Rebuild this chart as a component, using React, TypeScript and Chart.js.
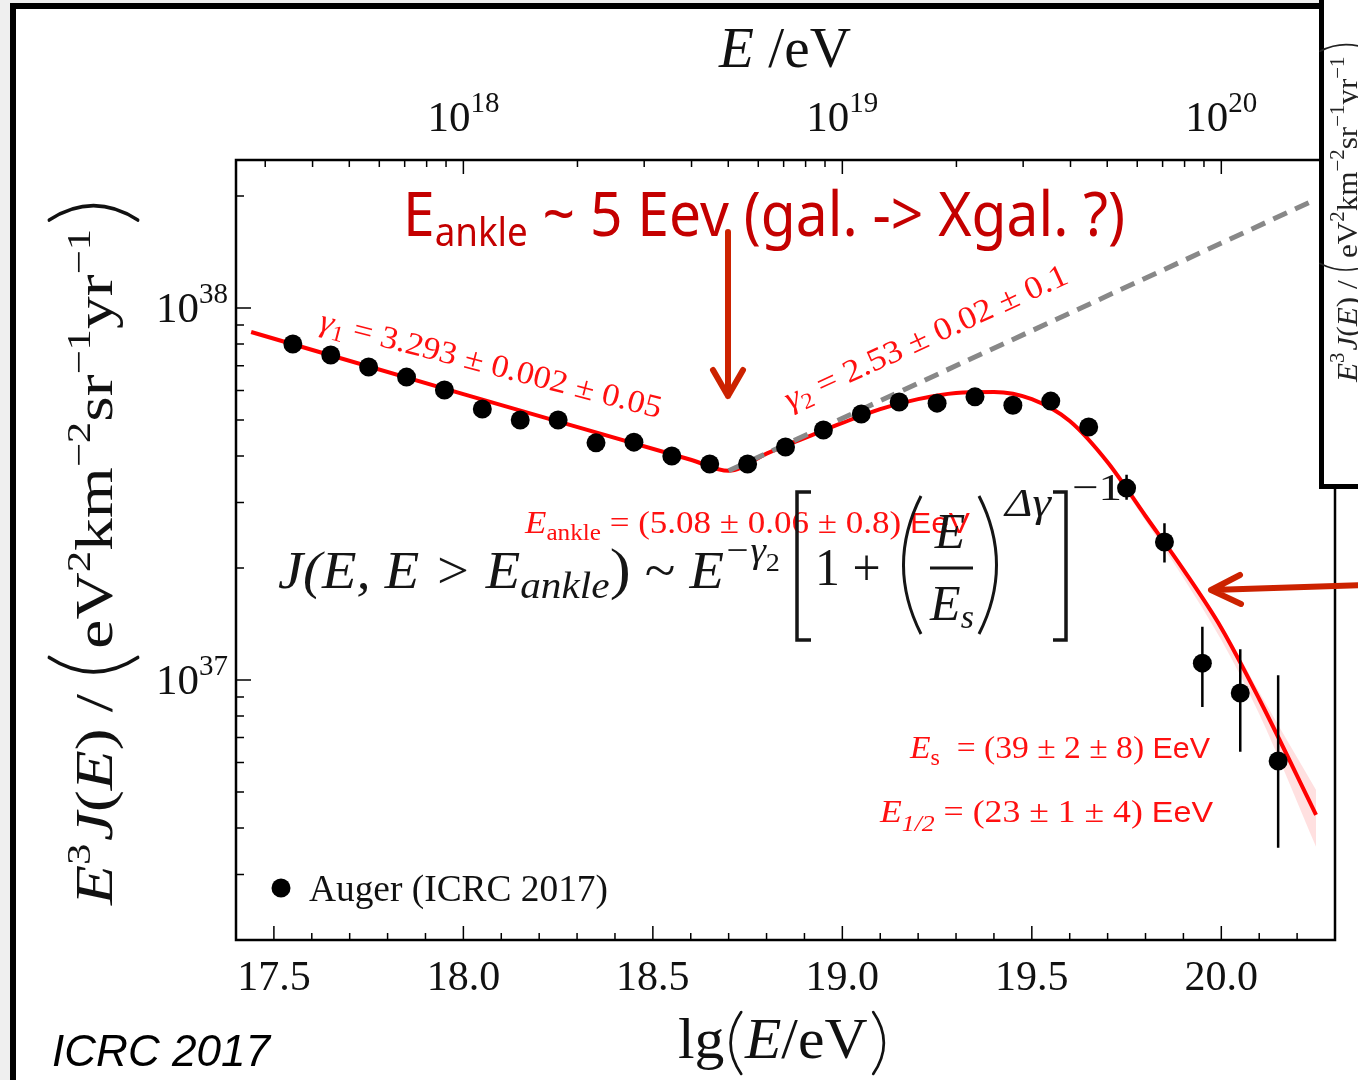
import React, { useEffect, useRef } from "react";
import { Chart, registerables } from "chart.js";
Chart.register(...registerables);

// ---------- data ----------
const energyLg = [17.55, 17.65, 17.75, 17.85, 17.95, 18.05, 18.15, 18.25, 18.35, 18.45, 18.55, 18.65, 18.75, 18.85, 18.95, 19.05, 19.15, 19.25, 19.35, 19.45, 19.55, 19.65, 19.75, 19.85, 19.95, 20.05, 20.15];
const fluxE3J = [8.0e37, 7.48e37, 6.94e37, 6.52e37, 6.02e37, 5.35e37, 5.0e37, 5.0e37, 4.34e37, 4.36e37, 4.0e37, 3.81e37, 3.81e37, 4.23e37, 4.7e37, 5.19e37, 5.59e37, 5.55e37, 5.77e37, 5.48e37, 5.62e37, 4.79e37, 3.28e37, 2.35e37, 1.11e37, 9.23e36, 6.06e36];
const errHigh = [null, null, null, null, null, null, null, null, null, null, null, null, null, null, null, null, null, null, null, null, null, null, 3.56e37, 2.64e37, 1.39e37, 1.21e37, 1.03e37];
const errLow = [null, null, null, null, null, null, null, null, null, null, null, null, null, null, null, null, null, null, null, null, null, null, 3.05e37, 2.07e37, 8.46e36, 6.41e36, 3.54e36];

const fitLg = [17.44, 18.0, 18.6, 18.7, 18.8, 18.9, 19.0, 19.1, 19.2, 19.3, 19.4, 19.5, 19.6, 19.7, 19.8, 19.9, 20.0, 20.1, 20.25];
const fitE3J = [8.62e37, 5.87e37, 3.91e37, 3.65e37, 4.06e37, 4.47e37, 4.91e37, 5.35e37, 5.69e37, 5.91e37, 5.95e37, 5.69e37, 4.97e37, 3.85e37, 2.76e37, 1.98e37, 1.38e37, 8.89e36, 4.34e36];

const bandLg = [19.7, 19.8, 19.9, 20.0, 20.1, 20.25];
const bandUpper = [3.9e37, 2.81e37, 2.01e37, 1.41e37, 9.28e36, 5.06e36];
const bandLower = [3.81e37, 2.68e37, 1.88e37, 1.28e37, 8.1e36, 3.56e36];

const extrapLg = [18.7, 20.25];
const extrapE3J = [3.65e37, 1.96e38];

const xTickValues = [17.5, 18.0, 18.5, 19.0, 19.5, 20.0];
const xTickLabels = ["17.5", "18.0", "18.5", "19.0", "19.5", "20.0"];
const topTickExponents = [18, 19, 20];
const yTickExponents = [37, 38];
const xRange = [17.4, 20.3];
const yRange = [2e36, 2.5e38];

// ---------- helpers ----------
const SERIF = '"Liberation Serif", "DejaVu Serif", serif';
const SANS = '"Liberation Sans", Arial, sans-serif';
const COMIC = '"Comic Sans MS", "Noto Sans", sans-serif';
const sf = (size: number, style = "") => `${style} ${size}px ${SERIF}`.trim();
const ss = (size: number, style = "") => `${style} ${size}px ${SANS}`.trim();

type Piece = {
  t: string;
  font?: string;
  dy?: number;
  dx?: number;
  paren?: "(" | ")";
  w?: number;
  asc?: number;
  desc?: number;
  lw?: number;
};

function pieceWidth(ctx: CanvasRenderingContext2D, p: Piece) {
  if (p.paren) return (p.w || 16) + (p.dx || 0);
  ctx.font = p.font || sf(20);
  return ctx.measureText(p.t).width + (p.dx || 0);
}

function measure(ctx: CanvasRenderingContext2D, ps: Piece[]) {
  let w = 0;
  for (const p of ps) w += pieceWidth(ctx, p);
  return w;
}

function drawRich(
  ctx: CanvasRenderingContext2D,
  ps: Piece[],
  x: number,
  y: number,
  o: { align?: "left" | "center" | "right"; width?: number; angle?: number; color?: string } = {}
) {
  const w = measure(ctx, ps);
  const s = o.width ? o.width / w : 1;
  const W = w * s;
  ctx.save();
  ctx.translate(x, y);
  if (o.angle) ctx.rotate(o.angle);
  const off = o.align === "center" ? -W / 2 : o.align === "right" ? -W : 0;
  ctx.translate(off, 0);
  ctx.scale(s, 1);
  if (o.color) ctx.fillStyle = o.color;
  ctx.strokeStyle = ctx.fillStyle;
  ctx.textBaseline = "alphabetic";
  ctx.textAlign = "left";
  let cx = 0;
  for (const p of ps) {
    cx += p.dx || 0;
    if (p.paren) {
      const pw = p.w || 16;
      const top = -(p.asc || 40);
      const bot = p.desc || 12;
      const mid = (top + bot) / 2;
      ctx.lineWidth = p.lw || 2.5;
      ctx.lineCap = "round";
      ctx.beginPath();
      if (p.paren === "(") {
        ctx.moveTo(cx + pw * 0.8, top);
        ctx.quadraticCurveTo(cx - pw * 0.35, mid, cx + pw * 0.8, bot);
      } else {
        ctx.moveTo(cx + pw * 0.2, top);
        ctx.quadraticCurveTo(cx + pw * 1.35, mid, cx + pw * 0.2, bot);
      }
      ctx.stroke();
      cx += pw;
    } else {
      ctx.font = p.font || sf(20);
      ctx.fillText(p.t, cx, p.dy || 0);
      cx += ctx.measureText(p.t).width;
    }
  }
  ctx.restore();
}

function unitsPieces(F: number): Piece[] {
  const sup = Math.round(F * 0.65);
  const up = -Math.round(F * 0.42);
  const pw = Math.round(F * 0.38);
  const asc = Math.round(F * 1.22);
  const desc = Math.round(F * 0.5);
  const lw = Math.max(1.6, F * 0.055);
  return [
    { t: "E", font: sf(F, "italic") },
    { t: "3", font: sf(sup), dy: up },
    { t: "J", font: sf(F, "italic"), dx: 2 },
    { t: "(", font: sf(F) },
    { t: "E", font: sf(F, "italic") },
    { t: ")", font: sf(F) },
    { t: " / ", font: sf(F) },
    { t: "", paren: "(", w: pw, asc, desc, lw },
    { t: "eV", font: sf(F), dx: 3 },
    { t: "2", font: sf(sup), dy: up },
    { t: "km", font: sf(F) },
    { t: "\u22122", font: sf(sup), dy: up },
    { t: "sr", font: sf(F) },
    { t: "\u22121", font: sf(sup), dy: up },
    { t: "yr", font: sf(F) },
    { t: "\u22121", font: sf(sup), dy: up },
    { t: "", paren: ")", w: pw, asc, desc, lw, dx: 3 },
  ];
}

const decor = {
  id: "decor",
  beforeDraw(chart: any) {
    const ctx: CanvasRenderingContext2D = chart.ctx;
    ctx.save();
    ctx.fillStyle = "#ffffff";
    ctx.fillRect(0, 0, chart.width, chart.height);
    ctx.fillStyle = "#efefef";
    ctx.fillRect(0, 0, 10, chart.height);
    ctx.fillRect(0, 0, chart.width, 3);
    ctx.restore();
  },
  afterDatasetsDraw(chart: any) {
    const ctx: CanvasRenderingContext2D = chart.ctx;
    const xs = chart.scales.x;
    const ys = chart.scales.y;
    ctx.save();
    ctx.strokeStyle = "#000";
    ctx.lineWidth = 2.5;
    ctx.beginPath();
    for (let i = 0; i < energyLg.length; i++) {
      const hi = errHigh[i];
      const lo = errLow[i];
      if (hi == null || lo == null) continue;
      const x = xs.getPixelForValue(energyLg[i]);
      ctx.moveTo(x, ys.getPixelForValue(hi));
      ctx.lineTo(x, ys.getPixelForValue(lo));
    }
    ctx.stroke();
    ctx.restore();
  },
  afterDraw(chart: any) {
    const ctx: CanvasRenderingContext2D = chart.ctx;
    const a = chart.chartArea;
    const xs = chart.scales.x;
    const ys = chart.scales.y;
    ctx.save();

    // slide frame
    ctx.fillStyle = "#000";
    ctx.fillRect(10, 3, 6, chart.height - 3);
    ctx.fillRect(10, 3, 1312, 6);

    // plot frame
    ctx.strokeStyle = "#000";
    ctx.lineWidth = 2.5;
    ctx.strokeRect(a.left, a.top, a.right - a.left, a.bottom - a.top);

    // ticks (inward)
    ctx.lineWidth = 1.5;
    ctx.beginPath();
    for (let k = 174; k <= 203; k++) {
      const v = k / 10;
      if (v <= xRange[0] + 0.001 || v >= xRange[1] - 0.001) continue;
      const x = xs.getPixelForValue(v);
      const len = k % 5 === 0 ? 14 : 7;
      ctx.moveTo(x, a.bottom);
      ctx.lineTo(x, a.bottom - len);
    }
    for (let n = 17; n <= 20; n++) {
      for (let m = 1; m <= 9; m++) {
        const v = n + Math.log10(m);
        if (v <= xRange[0] || v >= xRange[1]) continue;
        const x = xs.getPixelForValue(v);
        const len = m === 1 ? 14 : 7;
        ctx.moveTo(x, a.top);
        ctx.lineTo(x, a.top + len);
      }
    }
    for (let n = 36; n <= 38; n++) {
      for (let m = 1; m <= 9; m++) {
        const v = m * Math.pow(10, n);
        if (v <= yRange[0] * 1.001 || v >= yRange[1]) continue;
        const y = ys.getPixelForValue(v);
        const len = m === 1 ? 15 : 8;
        ctx.moveTo(a.left, y);
        ctx.lineTo(a.left + len, y);
      }
    }
    ctx.stroke();

    // tick labels
    ctx.fillStyle = "#111";
    xTickValues.forEach((v, i) => {
      drawRich(ctx, [{ t: xTickLabels[i], font: sf(42) }], xs.getPixelForValue(v), a.bottom + 50, { align: "center" });
    });
    topTickExponents.forEach((e) => {
      drawRich(
        ctx,
        [
          { t: "10", font: sf(43) },
          { t: String(e), font: sf(29), dy: -19 },
        ],
        xs.getPixelForValue(e),
        a.top - 29,
        { align: "center" }
      );
    });
    yTickExponents.forEach((e) => {
      drawRich(
        ctx,
        [
          { t: "10", font: sf(43) },
          { t: String(e), font: sf(29), dy: -19 },
        ],
        a.left - 8,
        ys.getPixelForValue(Math.pow(10, e)) + 14,
        { align: "right" }
      );
    });

    // axis titles
    drawRich(
      ctx,
      [
        { t: "E", font: sf(56, "italic") },
        { t: " /eV", font: sf(56) },
      ],
      785,
      67,
      { align: "center", width: 132 }
    );
    drawRich(
      ctx,
      [
        { t: "lg", font: sf(58) },
        { t: "", paren: "(", w: 18, asc: 46, desc: 16, lw: 2.6, dx: 2 },
        { t: "E", font: sf(58, "italic") },
        { t: "/", font: sf(58) },
        { t: "eV", font: sf(58) },
        { t: "", paren: ")", w: 18, asc: 46, desc: 16, lw: 2.6, dx: 2 },
      ],
      783,
      1058,
      { align: "center", width: 210 }
    );
    drawRich(ctx, unitsPieces(52), 112, 905, { angle: -Math.PI / 2, width: 705 });

    // legend
    ctx.fillStyle = "#000";
    ctx.beginPath();
    ctx.arc(281, 888, 9.5, 0, Math.PI * 2);
    ctx.fill();
    ctx.fillStyle = "#111";
    drawRich(ctx, [{ t: "Auger (ICRC 2017)", font: sf(37) }], 309, 901, { width: 299 });

    // red fit annotations
    const RED = "#ff1010";
    const F = 32;
    drawRich(
      ctx,
      [
        { t: "\u03b3", font: sf(F, "italic") },
        { t: "1", font: sf(Math.round(F * 0.7)), dy: 6 },
        { t: " = 3.293 \u00b1 0.002 \u00b1 0.05", font: sf(F) },
      ],
      318,
      330,
      { angle: (14.5 * Math.PI) / 180, width: 352, color: RED }
    );
    drawRich(
      ctx,
      [
        { t: "\u03b3", font: sf(F, "italic") },
        { t: "2", font: sf(Math.round(F * 0.7)), dy: 6 },
        { t: " = 2.53 \u00b1 0.02 \u00b1 0.1", font: sf(F) },
      ],
      790,
      410,
      { angle: (-24.5 * Math.PI) / 180, width: 308, color: RED }
    );
    drawRich(
      ctx,
      [
        { t: "E", font: sf(F, "italic") },
        { t: "ankle", font: sf(Math.round(F * 0.72)), dy: 7 },
        { t: " = (5.08 \u00b1 0.06 \u00b1 0.8) ", font: sf(F) },
        { t: "EeV", font: ss(F - 3) },
      ],
      525,
      533,
      { width: 445, color: RED }
    );
    drawRich(
      ctx,
      [
        { t: "E", font: sf(F, "italic") },
        { t: "s", font: sf(Math.round(F * 0.72)), dy: 7 },
        { t: "  = (39 \u00b1 2 \u00b1 8) ", font: sf(F) },
        { t: "EeV", font: ss(F - 3) },
      ],
      910,
      758,
      { width: 300, color: RED }
    );
    drawRich(
      ctx,
      [
        { t: "E", font: sf(F, "italic") },
        { t: "1/2", font: sf(Math.round(F * 0.72), "italic"), dy: 9 },
        { t: " = (23 \u00b1 1 \u00b1 4) ", font: sf(F) },
        { t: "EeV", font: ss(F - 3) },
      ],
      880,
      822,
      { width: 333, color: RED }
    );

    // black formula
    ctx.fillStyle = "#151515";
    drawRich(
      ctx,
      [
        { t: "J(E, E > E", font: sf(52, "italic") },
        { t: "ankle", font: sf(38, "italic"), dy: 10 },
        { t: ")", font: sf(58) },
        { t: " ~ ", font: sf(52) },
        { t: "E", font: sf(52, "italic") },
        { t: "\u2212\u03b3", font: sf(36, "italic"), dy: -26 },
        { t: "2", font: sf(26), dy: -17 },
      ],
      278,
      588,
      { width: 502 }
    );
    drawRich(ctx, [{ t: "1 + ", font: sf(52) }], 815, 585, { width: 78 });
    drawRich(ctx, [{ t: "E", font: sf(50, "italic") }], 950, 548, { align: "center" });
    drawRich(
      ctx,
      [
        { t: "E", font: sf(50, "italic") },
        { t: "s", font: sf(34, "italic"), dy: 8 },
      ],
      952,
      620,
      { align: "center" }
    );
    drawRich(ctx, [{ t: "\u0394\u03b3", font: sf(40, "italic") }], 1005, 516, { width: 46 });
    drawRich(ctx, [{ t: "\u22121", font: sf(38) }], 1072, 500, { width: 50 });
    ctx.strokeStyle = "#151515";
    ctx.lineWidth = 3.5;
    ctx.beginPath();
    ctx.moveTo(811, 492);
    ctx.lineTo(797, 492);
    ctx.lineTo(797, 640);
    ctx.lineTo(811, 640);
    ctx.moveTo(1053, 492);
    ctx.lineTo(1066, 492);
    ctx.lineTo(1066, 640);
    ctx.lineTo(1053, 640);
    ctx.stroke();
    ctx.lineWidth = 3;
    ctx.beginPath();
    ctx.moveTo(921, 496);
    ctx.quadraticCurveTo(886, 565, 921, 634);
    ctx.moveTo(979, 496);
    ctx.quadraticCurveTo(1014, 565, 979, 634);
    ctx.moveTo(930, 568);
    ctx.lineTo(973, 568);
    ctx.stroke();

    // headline annotation
    drawRich(
      ctx,
      [
        { t: "E", font: `62px ${COMIC}` },
        { t: "ankle", font: `40px ${COMIC}`, dy: 10 },
        { t: " ~ 5 Eev (gal. -> Xgal. ?)", font: `62px ${COMIC}` },
      ],
      403,
      236,
      { width: 722, color: "#c40000" }
    );

    // arrows
    ctx.strokeStyle = "#cc2200";
    ctx.lineWidth = 6;
    ctx.lineCap = "round";
    ctx.lineJoin = "round";
    ctx.beginPath();
    ctx.moveTo(728, 232);
    ctx.lineTo(728, 396);
    ctx.moveTo(713, 370);
    ctx.lineTo(728, 396);
    ctx.lineTo(743, 370);
    ctx.moveTo(1362, 585);
    ctx.lineTo(1212, 590);
    ctx.moveTo(1240, 575);
    ctx.lineTo(1211, 590);
    ctx.lineTo(1241, 604);
    ctx.stroke();

    // ICRC 2017 footer
    ctx.fillStyle = "#000";
    drawRich(ctx, [{ t: "ICRC 2017", font: ss(44, "italic") }], 52, 1066, { width: 218 });

    // overlapping panel at the top right
    ctx.fillStyle = "#ffffff";
    ctx.fillRect(1321, 0, chart.width - 1321, 487);
    ctx.fillStyle = "#000";
    ctx.fillRect(1319, 0, 5, 489);
    ctx.fillRect(1319, 484, chart.width - 1319, 5);
    ctx.fillStyle = "#222";
    drawRich(ctx, unitsPieces(30), 1357, 382, { angle: -Math.PI / 2, width: 340 });

    ctx.restore();
  },
};

export default function App() {
  const ref = useRef<HTMLCanvasElement>(null);
  useEffect(() => {
    document.body.style.margin = "0";
    const canvas = ref.current;
    if (!canvas) return;
    const pts = energyLg.map((x, i) => ({ x, y: fluxE3J[i] }));
    const fit = fitLg.map((x, i) => ({ x, y: fitE3J[i] }));
    const up = bandLg.map((x, i) => ({ x, y: bandUpper[i] }));
    const lo = bandLg.map((x, i) => ({ x, y: bandLower[i] }));
    const ext = extrapLg.map((x, i) => ({ x, y: extrapE3J[i] }));
    const chart = new Chart(canvas, {
      type: "line",
      data: {
        datasets: [
          {
            label: "Auger (ICRC 2017)",
            data: pts,
            showLine: false,
            pointRadius: 9.5,
            pointBackgroundColor: "#000",
            pointBorderColor: "#000",
            pointBorderWidth: 0,
            order: 0,
          },
          {
            label: "extrapolation",
            data: ext,
            borderColor: "#888888",
            borderWidth: 5,
            borderDash: [15, 9],
            pointRadius: 0,
            fill: false,
            order: 1,
          },
          {
            label: "fit",
            data: fit,
            borderColor: "#ff0000",
            borderWidth: 4,
            pointRadius: 0,
            fill: false,
            cubicInterpolationMode: "monotone",
            order: 2,
          },
          {
            label: "band upper",
            data: up,
            borderColor: "rgba(0,0,0,0)",
            borderWidth: 1,
            pointRadius: 0,
            backgroundColor: "rgba(255,60,60,0.16)",
            fill: "+1",
            cubicInterpolationMode: "monotone",
            order: 3,
          },
          {
            label: "band lower",
            data: lo,
            borderColor: "rgba(0,0,0,0)",
            borderWidth: 1,
            pointRadius: 0,
            fill: false,
            cubicInterpolationMode: "monotone",
            order: 4,
          },
        ],
      } as any,
      options: {
        responsive: false,
        animation: false,
        devicePixelRatio: 1,
        events: [],
        layout: { padding: { left: 236, top: 160, right: 23, bottom: 140 } },
        scales: {
          x: { type: "linear", min: xRange[0], max: xRange[1], display: false },
          y: { type: "logarithmic", min: yRange[0], max: yRange[1], display: false },
        },
        plugins: { legend: { display: false }, tooltip: { enabled: false } },
      } as any,
      plugins: [decor as any],
    });
    return () => chart.destroy();
  }, []);
  return (
    <div style={{ width: 1358, height: 1080, position: "relative", overflow: "hidden" }}>
      <canvas ref={ref} width={1358} height={1080} style={{ display: "block", width: 1358, height: 1080 }} />
    </div>
  );
}
